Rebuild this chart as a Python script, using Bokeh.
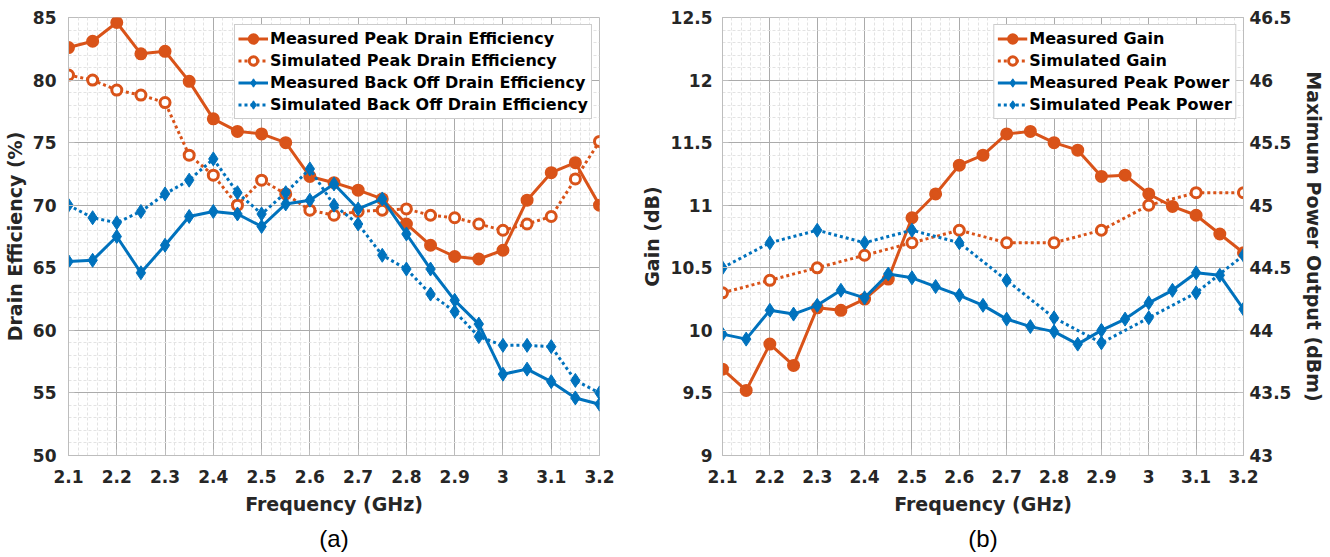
from bokeh.plotting import figure
from bokeh.models import (Range1d, LinearAxis, FixedTicker, CustomJSTickFormatter,
                          Legend, LegendItem, Title)
from bokeh.layouts import row
from bokeh.embed import file_html
from bokeh.resources import INLINE

# ---------------- data ----------------
freq = [2.1, 2.15, 2.2, 2.25, 2.3, 2.35, 2.4, 2.45, 2.5, 2.55, 2.6, 2.65,
        2.7, 2.75, 2.8, 2.85, 2.9, 2.95, 3.0, 3.05, 3.1, 3.15, 3.2]
freq_coarse = [2.1, 2.2, 2.3, 2.4, 2.5, 2.6, 2.7, 2.8, 2.9, 3.0, 3.1, 3.2]

# (a) drain efficiency (%)
meas_peak_de = [82.6, 83.1, 84.6, 82.1, 82.3, 79.9, 76.9, 75.9, 75.7, 75.0, 72.3, 71.8,
                71.2, 70.5, 68.5, 66.8, 65.9, 65.7, 66.4, 70.4, 72.6, 73.4, 70.0]
sim_peak_de = [80.4, 80.0, 79.2, 78.8, 78.2, 74.0, 72.4, 70.0, 72.0, 70.9, 69.6, 69.2,
               69.5, 69.6, 69.7, 69.2, 69.0, 68.5, 68.0, 68.5, 69.1, 72.1, 75.1]
meas_bo_de = [65.5, 65.6, 67.5, 64.6, 66.8, 69.1, 69.5, 69.3, 68.3, 70.1, 70.4, 71.7,
              69.7, 70.5, 67.7, 64.9, 62.4, 60.5, 56.5, 56.9, 55.9, 54.6, 54.1]
sim_bo_de = [70.0, 69.0, 68.6, 69.5, 70.9, 72.0, 73.7, 71.0, 69.3, 71.0, 72.9, 70.0,
             68.5, 66.0, 64.9, 62.9, 61.5, 59.5, 58.8, 58.8, 58.7, 56.0, 55.0]

# (b) gain (dB) and maximum power output (dBm)
meas_gain = [9.69, 9.52, 9.89, 9.72, 10.18, 10.16, 10.25, 10.41, 10.9, 11.09, 11.32, 11.4,
             11.57, 11.59, 11.5, 11.44, 11.23, 11.24, 11.09, 10.99, 10.92, 10.77, 10.62]
sim_gain = [10.3, 10.4, 10.5, 10.6, 10.7, 10.8, 10.7, 10.7, 10.8, 11.0, 11.1, 11.1]
meas_power = [43.97, 43.93, 44.16, 44.13, 44.2, 44.32, 44.26, 44.45, 44.42, 44.35, 44.28, 44.2,
              44.09, 44.03, 43.99, 43.89, 44.0, 44.09, 44.22, 44.32, 44.46, 44.44, 44.17]
sim_power = [44.5, 44.7, 44.8, 44.7, 44.8, 44.7, 44.4, 44.1, 43.9, 44.1, 44.3, 44.6]

x_ticks = [2.1, 2.2, 2.3, 2.4, 2.5, 2.6, 2.7, 2.8, 2.9, 3.0, 3.1, 3.2]
de_ticks = [50, 55, 60, 65, 70, 75, 80, 85]
gain_ticks = [9, 9.5, 10, 10.5, 11, 11.5, 12, 12.5]
power_ticks = [43, 43.5, 44, 44.5, 45, 45.5, 46, 46.5]

# ---------------- style ----------------
ORANGE = "#D95319"
BLUE = "#0072BD"
FONT = "DejaVu Sans"
TXT = "#262626"
AXIS_COL = "#bdbdbd"

fmt = CustomJSTickFormatter(code="return tick.toFixed(2).replace(/\\.?0+$/, '');")


def minor_list(lo, hi, step):
    out = []
    k = 0
    while True:
        v = round(lo + k * step, 6)
        if v > hi + 1e-9:
            break
        out.append(v)
        k += 1
    return out


def style_axis(ax, ticks, minor):
    ax.ticker = FixedTicker(ticks=ticks, minor_ticks=minor)
    ax.formatter = fmt
    ax.axis_line_color = AXIS_COL
    ax.major_tick_line_color = AXIS_COL
    ax.major_tick_in = 6
    ax.major_tick_out = 0
    ax.minor_tick_line_color = None
    ax.major_label_text_font = FONT
    ax.major_label_text_font_style = "bold"
    ax.major_label_text_font_size = "17px"
    ax.major_label_text_color = TXT
    ax.axis_label_text_font = FONT
    ax.axis_label_text_font_style = "bold"
    ax.axis_label_text_font_size = "19px"
    ax.axis_label_text_color = TXT


def style_grid(p):
    for g in (p.xgrid, p.ygrid):
        g.grid_line_color = "#ababab"
        g.minor_grid_line_color = "#e3e3e3"
        g.minor_grid_line_dash = "3 2"


def make_legend(p, items):
    leg = Legend(items=items, location="top_right")
    leg.label_text_font = FONT
    leg.label_text_font_style = "bold"
    leg.label_text_font_size = "16px"
    leg.label_text_color = "black"
    leg.label_height = 21
    leg.glyph_height = 21
    leg.glyph_width = 30
    leg.label_standoff = 2
    leg.spacing = 1
    leg.padding = 3
    leg.margin = 7
    leg.border_line_color = "#999999"
    leg.border_line_width = 1
    leg.background_fill_alpha = 1
    p.add_layout(leg)


def series(p, x, y, color, dashed, marker, hollow, y_range_name="default", label=""):
    kw = {}
    if y_range_name != "default":
        kw["y_range_name"] = y_range_name
    ln = p.line(x, y, line_color=color, line_width=3,
                line_dash="3 3" if dashed else "solid", **kw)
    if marker == "circle":
        sc = p.scatter(x, y, marker="circle", size=10, line_color=color, line_width=3,
                       fill_color="white" if hollow else color, **kw)
    else:
        sc = p.scatter(x, y, marker="diamond", size=14, line_color=color, line_width=1,
                       fill_color=color, **kw)
    return LegendItem(label=label, renderers=[ln, sc])


# ---------------- figure (a) ----------------
pa = figure(width=630, height=557, output_backend="svg", toolbar_location=None,
            x_range=Range1d(2.1, 3.2), y_range=Range1d(50, 85),
            min_border_left=68, min_border_right=31, min_border_top=15, min_border_bottom=95)
pa.outline_line_color = AXIS_COL
style_axis(pa.xaxis[0], x_ticks, minor_list(2.1, 3.2, 0.02))
style_axis(pa.yaxis[0], de_ticks, minor_list(50, 85, 1))
pa.xaxis[0].axis_label = "Frequency (GHz)"
pa.xaxis[0].major_label_standoff = 10
pa.xaxis[0].axis_label_standoff = 7
pa.yaxis[0].axis_label = "Drain Efficiency (%)"
pa.yaxis[0].major_label_standoff = 8
pa.yaxis[0].axis_label_standoff = 4
style_grid(pa)

items_a = [
    series(pa, freq, meas_peak_de, ORANGE, False, "circle", False, label="Measured Peak Drain Efficiency"),
    series(pa, freq, sim_peak_de, ORANGE, True, "circle", True, label="Simulated Peak Drain Efficiency"),
    series(pa, freq, meas_bo_de, BLUE, False, "diamond", False, label="Measured Back Off Drain Efficiency"),
    series(pa, freq, sim_bo_de, BLUE, True, "diamond", False, label="Simulated Back Off Drain Efficiency"),
]
make_legend(pa, items_a)
pa.add_layout(Title(text="(a)", align="center", offset=-19, text_font="Liberation Sans",
                    text_font_style="normal", text_font_size="24px", text_color="black"), "below")

# ---------------- figure (b) ----------------
pb = figure(width=700, height=557, output_backend="svg", toolbar_location=None,
            x_range=Range1d(2.1, 3.2), y_range=Range1d(9, 12.5),
            min_border_left=92, min_border_right=87, min_border_top=17, min_border_bottom=102)
pb.outline_line_color = AXIS_COL
pb.extra_y_ranges = {"power": Range1d(43, 46.5)}
style_axis(pb.xaxis[0], x_ticks, minor_list(2.1, 3.2, 0.02))
style_axis(pb.yaxis[0], gain_ticks, minor_list(9, 12.5, 0.1))
pb.xaxis[0].axis_label = "Frequency (GHz)"
pb.xaxis[0].major_label_standoff = 10
pb.xaxis[0].axis_label_standoff = 7
pb.yaxis[0].axis_label = "Gain (dB)"
pb.yaxis[0].major_label_standoff = 6
pb.yaxis[0].axis_label_standoff = 5
rax = LinearAxis(y_range_name="power", axis_label="Maximum Power Output (dBm)")
style_axis(rax, power_ticks, [])
rax.major_label_standoff = 6
rax.axis_label_standoff = 9
pb.add_layout(rax, "right")
style_grid(pb)

items_b = [
    series(pb, freq, meas_gain, ORANGE, False, "circle", False, label="Measured Gain"),
    series(pb, freq_coarse, sim_gain, ORANGE, True, "circle", True, label="Simulated Gain"),
    series(pb, freq, meas_power, BLUE, False, "diamond", False, "power", label="Measured Peak Power"),
    series(pb, freq_coarse, sim_power, BLUE, True, "diamond", False, "power", label="Simulated Peak Power"),
]
make_legend(pb, items_b)
pb.add_layout(Title(text="(b)", align="center", offset=0, text_font="Liberation Sans",
                    text_font_style="normal", text_font_size="24px", text_color="black"), "below")

layout = row(pa, pb)
open("out.html", "w").write(file_html(layout, INLINE))
